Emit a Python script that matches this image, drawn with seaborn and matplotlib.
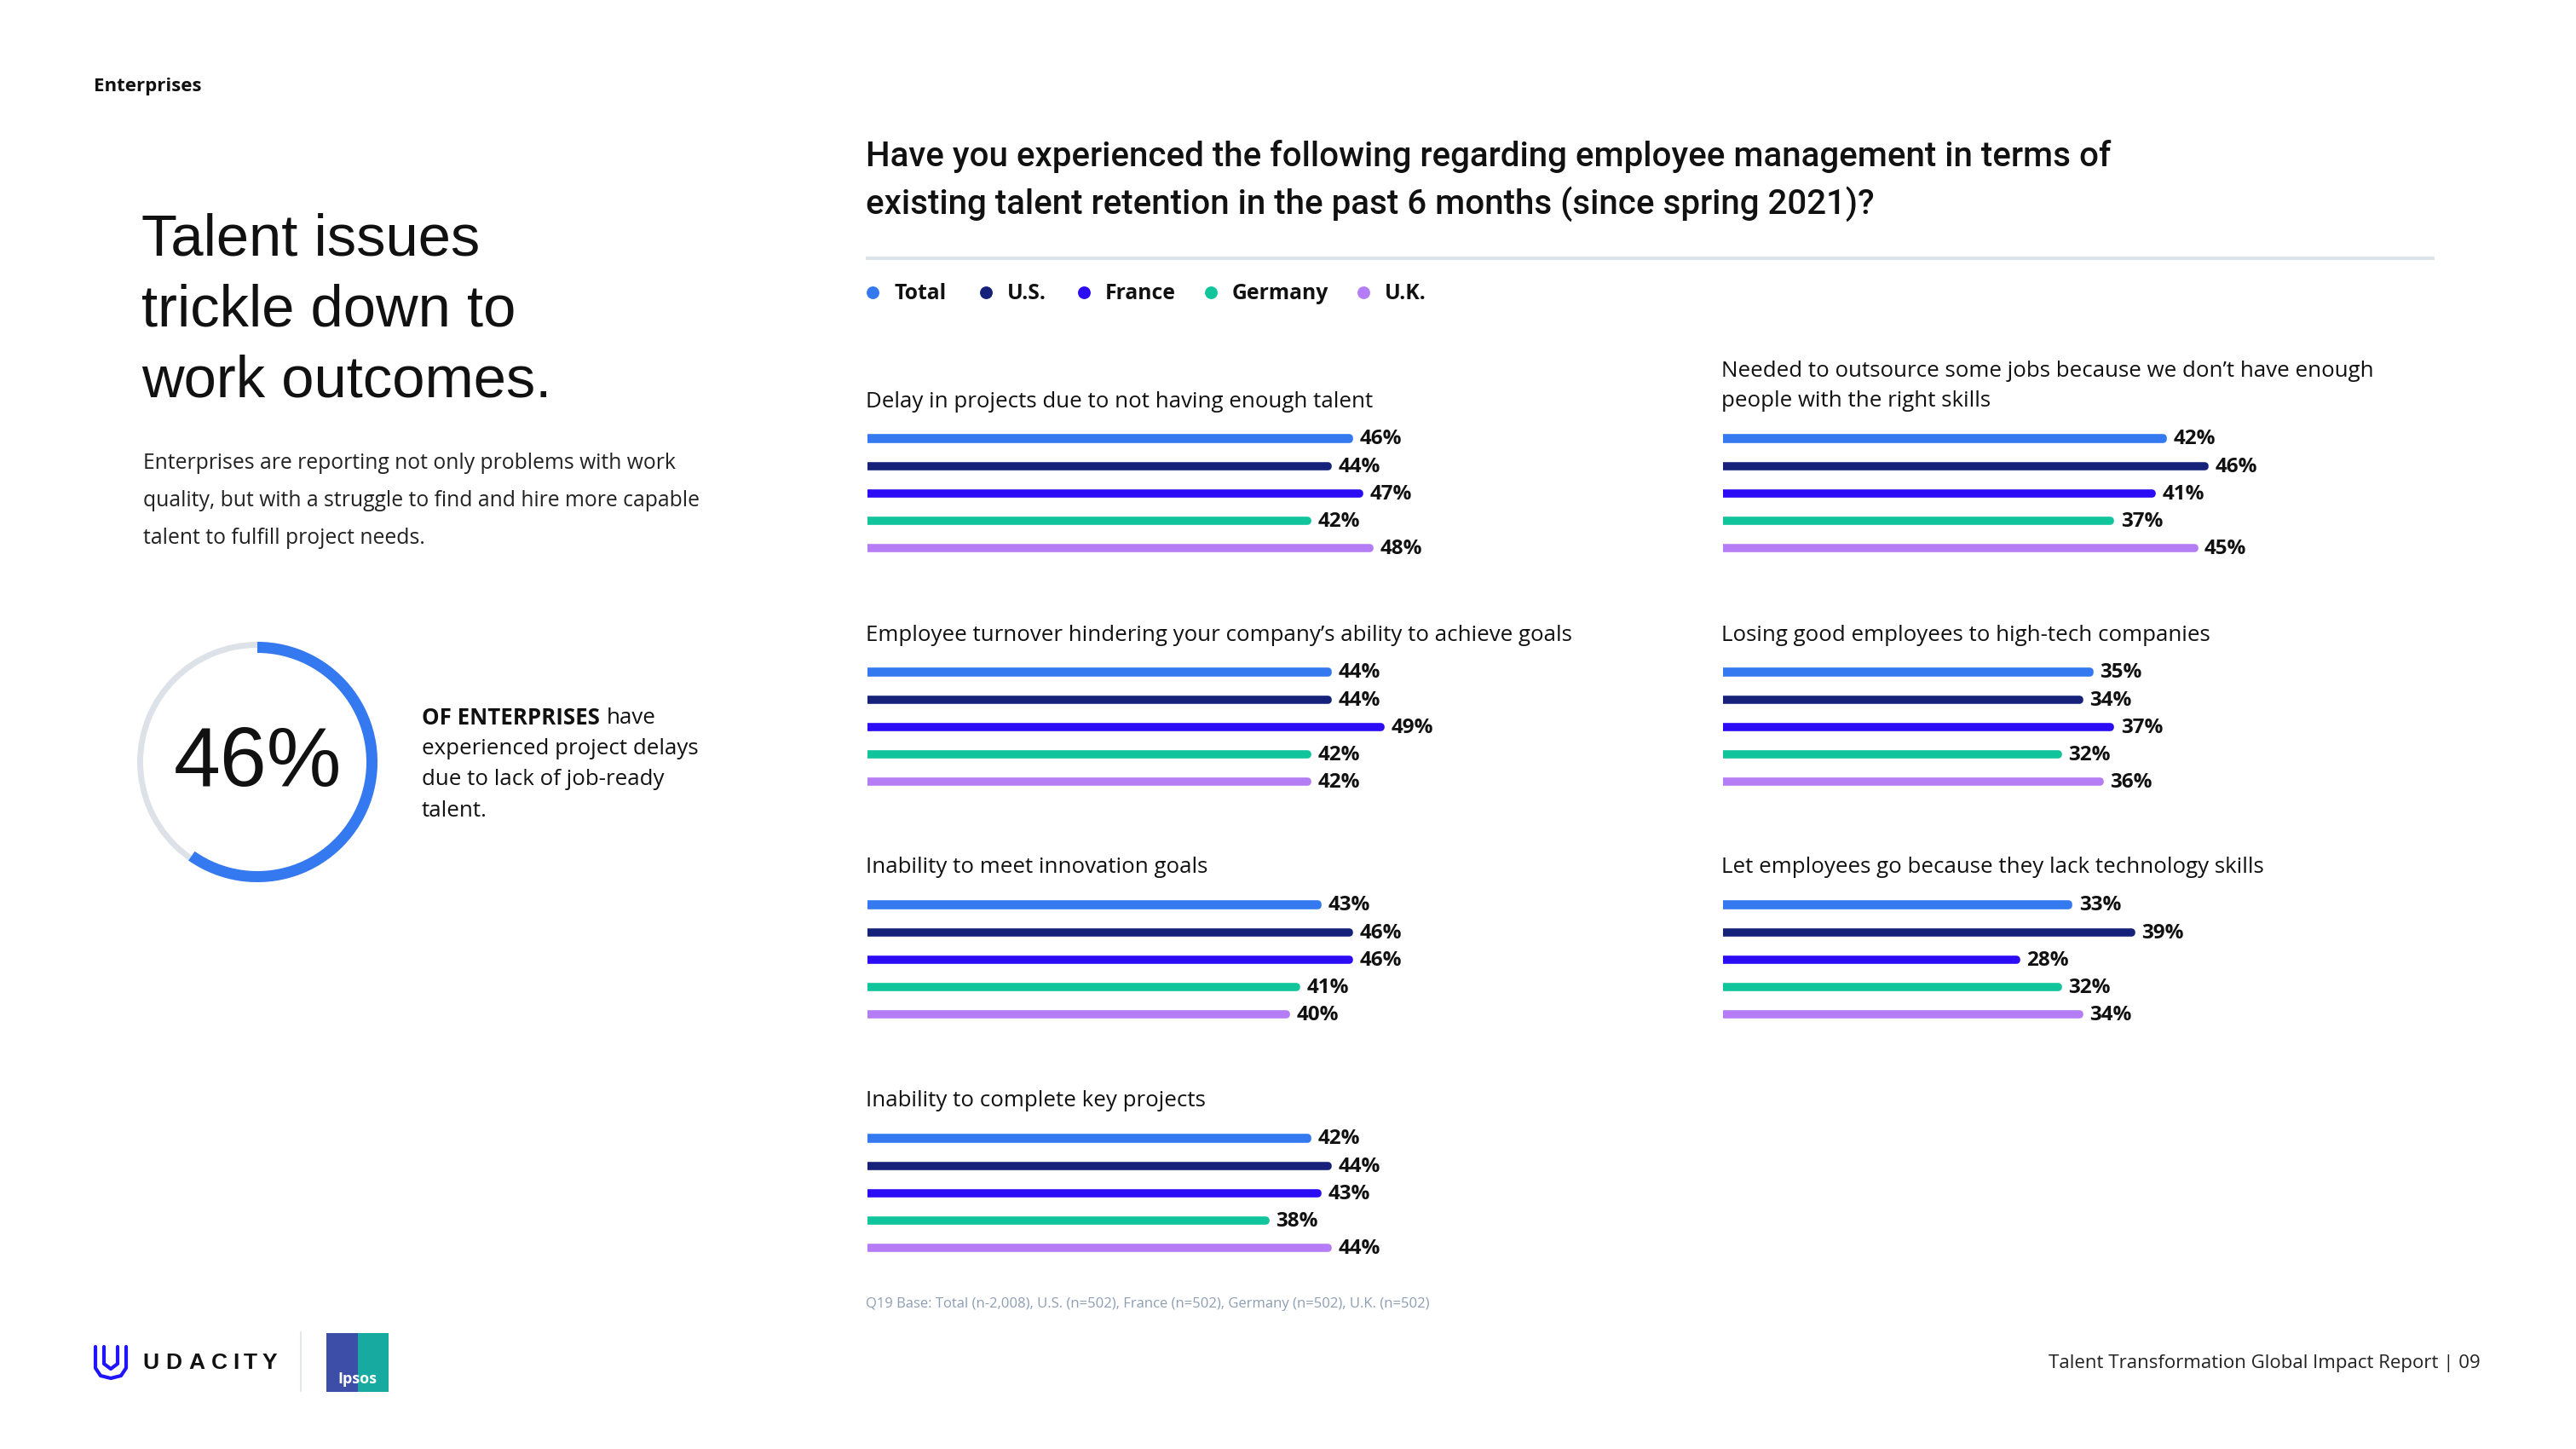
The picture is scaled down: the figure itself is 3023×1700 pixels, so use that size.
import seaborn as sns
import matplotlib.pyplot as plt
import matplotlib.patches as mpatches
import pandas as pd
import numpy as np

# Survey data (percent of enterprises)
countries = ['Total', 'U.S.', 'France', 'Germany', 'U.K.']
country_colors = ['#3479f0', '#16227a', '#2b0cf5', '#10c49c', '#b47cf5']

delay_projects = [46, 44, 47, 42, 48]
outsource_jobs = [42, 46, 41, 37, 45]
turnover_goals = [44, 44, 49, 42, 42]
losing_to_tech = [35, 34, 37, 32, 36]
innovation_goals = [43, 46, 46, 41, 40]
let_go_skills = [33, 39, 28, 32, 34]
key_projects = [42, 44, 43, 38, 44]

panel_titles = [
    'Delay in projects due to not having enough talent',
    'Needed to outsource some jobs because we don\u2019t have enough\npeople with the right skills',
    'Employee turnover hindering your company\u2019s ability to achieve goals',
    'Losing good employees to high-tech companies',
    'Inability to meet innovation goals',
    'Let employees go because they lack technology skills',
    'Inability to complete key projects',
]
panel_values = [delay_projects, outsource_jobs, turnover_goals, losing_to_tech,
                innovation_goals, let_go_skills, key_projects]

headline_pct = 46

sns.set_theme(style='white')
plt.rcParams['font.family'] = ['Open Sans', 'DejaVu Sans']

W, H = 3023, 1700
fig = plt.figure(figsize=(W / 100, H / 100), dpi=100)
fig.patch.set_facecolor('white')


def px_rect(x, y, w, h):
    return [x / W, 1 - (y + h) / H, w / W, h / H]


# background axes in pixel coordinates for all page decoration
bg = fig.add_axes([0, 0, 1, 1])
bg.set_xlim(0, W)
bg.set_ylim(H, 0)
bg.axis('off')

ink = '#111111'

bg.text(110, 101, 'Enterprises', fontsize=16, fontweight='bold', color=ink, va='center')

# headline
for i, line in enumerate(['Talent issues', 'trickle down to', 'work outcomes.']):
    bg.text(166, 281 + i * 83, line, fontsize=49.5, family=['Liberation Sans'],
            color=ink, va='center')

para = ['Enterprises are reporting not only problems with work',
        'quality, but with a struggle to find and hire more capable',
        'talent to fulfill project needs.']
for i, line in enumerate(para):
    bg.text(168, 544 + i * 44, line, fontsize=17.8, color='#222222', va='center')

# donut
cx, cy, r = 302, 894, 141
bg.add_patch(mpatches.Wedge((cx, cy), r, 0, 360, width=7, color='#dde2e9', lw=0))
bg.add_patch(mpatches.Wedge((cx, cy), r, -90, 125, width=13, color='#3479f0', lw=0))
bg.text(cx, cy + 2, f'{headline_pct}%', fontsize=71, family=['Liberation Sans'],
        color=ink, ha='center', va='center')

renderer = fig.canvas.get_renderer()
t = bg.text(495, 842, 'OF ENTERPRISES', fontsize=18.6, fontweight='bold', color=ink, va='center')
ext = t.get_window_extent(renderer)
bg.text(495 + ext.width + 8, 842, 'have', fontsize=18.6, color=ink, va='center')
for i, line in enumerate(['experienced project delays', 'due to lack of job-ready', 'talent.']):
    bg.text(495, 878 + i * 36.6, line, fontsize=18.6, color=ink, va='center')

# question title
bg.text(1016, 183, 'Have you experienced the following regarding employee management in terms of',
        fontsize=29, family=['Roboto'], fontweight='medium', color=ink, va='center')
bg.text(1016, 239, 'existing talent retention in the past 6 months (since spring 2021)?',
        fontsize=29, family=['Roboto'], fontweight='medium', color=ink, va='center')
bg.plot([1016, 2857], [303, 303], color='#dde3ea', lw=3, solid_capstyle='butt')

# legend
legend_x = [1024, 1157, 1272, 1421, 1600]
for lx, name, col in zip(legend_x, countries, country_colors):
    bg.scatter([lx], [343], s=115, color=col, linewidths=0)
    bg.text(lx + 25, 344, name, fontsize=17.8, fontweight='bold', color=ink, va='center')

# bar panels
col_x = [1018, 2022]
row_first = [514, 788, 1061, 1335]
bar_step = 32.2
px_per_pct = 12.28
xmax = 60

for k, (title, vals) in enumerate(zip(panel_titles, panel_values)):
    c, rrow = k % 2, k // 2
    x0, first = col_x[c], row_first[rrow]
    ax = fig.add_axes(px_rect(x0, first - bar_step / 2, xmax * px_per_pct, 5 * bar_step))
    ax.set_facecolor('none')
    df = pd.DataFrame({'country': countries, 'value': vals})
    sns.barplot(data=df, x='value', y='country', hue='country', palette=country_colors,
                orient='h', width=0.04, saturation=1, errorbar=None, legend=False, ax=ax)
    for p in ax.patches:
        p.set_edgecolor(p.get_facecolor())
        p.set_linewidth(6.2)
        p.set_joinstyle('round')
    for i, v in enumerate(vals):
        ax.annotate(f'{v}%', (v, i), xytext=(9, -1), textcoords='offset points',
                    fontsize=17.5, fontweight='bold', color=ink, va='center', ha='left')
    ax.set_xlim(0, xmax)
    ax.set_ylim(4.5, -0.5)
    ax.axis('off')
    nlines = title.count('\n') + 1
    bg.text(1016 if c == 0 else 2020, first - 43 - 18 * (nlines - 1), title, fontsize=18.6,
            color=ink, va='center', linespacing=1.5)

# footnote and footer
bg.text(1016, 1530, 'Q19 Base: Total (n-2,008), U.S. (n=502), France (n=502), Germany (n=502), U.K. (n=502)',
        fontsize=12, color='#8d9db3', va='center')
bg.text(2911, 1599, 'Talent Transformation Global Impact Report | 09', fontsize=16,
        color='#222222', ha='right', va='center')

# udacity mark
ud = '#2015ff'
bg.plot([112, 112, 118, 130, 142, 148, 148], [1580, 1605, 1614, 1617, 1614, 1605, 1580],
        color=ud, lw=3, solid_joinstyle='round', solid_capstyle='round')
bg.plot([122, 122, 130, 138, 138], [1580, 1600, 1606, 1600, 1580],
        color=ud, lw=3, solid_joinstyle='round', solid_capstyle='round')
for i, ch in enumerate('UDACITY'):
    bg.text(177 + [0, 27, 54, 80, 100, 117, 139][i], 1599, ch, fontsize=19,
            family=['Liberation Sans'], fontweight='bold', color=ink, ha='center', va='center')
bg.plot([353, 353], [1563, 1632], color='#e3e6ea', lw=1.5)

# ipsos mark
bg.add_patch(mpatches.Rectangle((383, 1564), 37, 69, color='#3d4ea8', lw=0))
bg.add_patch(mpatches.Rectangle((420, 1564), 36, 69, color='#16aaa0', lw=0))
bg.text(419, 1618, 'Ipsos', fontsize=13, fontweight='bold', color='white',
        ha='center', va='center')

fig.savefig('out.png', dpi=100, facecolor='white')
